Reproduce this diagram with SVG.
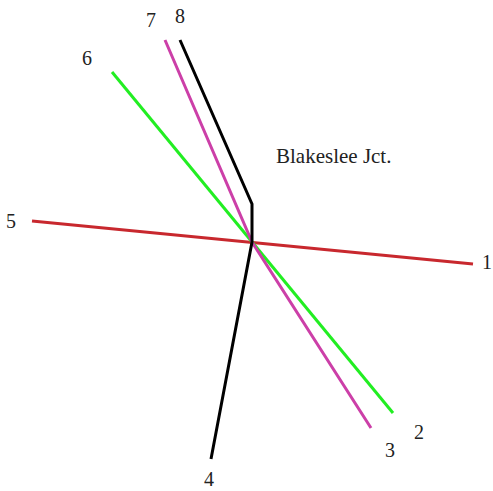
<svg xmlns="http://www.w3.org/2000/svg" width="493" height="491" viewBox="0 0 493 491">
<style>
.ln{fill:none;stroke-width:3;stroke-linecap:butt;stroke-linejoin:miter}
text{font-family:"Liberation Serif","DejaVu Serif","Times New Roman",serif;font-size:20px;fill:#222}
</style>
<rect width="493" height="491" fill="#fff"/>
<g id="connectors">
<line class="ln" x1="32" y1="221" x2="473" y2="264" stroke="#c8282e"/>
<line class="ln" x1="112" y1="72" x2="393" y2="413" stroke="#22ee22"/>
<polyline class="ln" points="165,40 252,242 371,428" stroke="#cc3fa8"/>
<polyline class="ln" points="180,40 252,204 252,242 211,459" stroke="#000"/>
</g>
<g id="n1"><text x="482" y="269">1</text></g>
<g id="n2"><text x="414" y="439">2</text></g>
<g id="n3"><text x="385" y="457">3</text></g>
<g id="n4"><text x="204" y="486">4</text></g>
<g id="n5"><text x="6" y="228">5</text></g>
<g id="n6"><text x="82" y="65">6</text></g>
<g id="n7"><text x="146" y="27">7</text></g>
<g id="n8"><text x="175" y="23">8</text></g>
<g id="jct"><text x="276" y="163" style="font-size:21px">Blakeslee Jct.</text></g>
</svg>
